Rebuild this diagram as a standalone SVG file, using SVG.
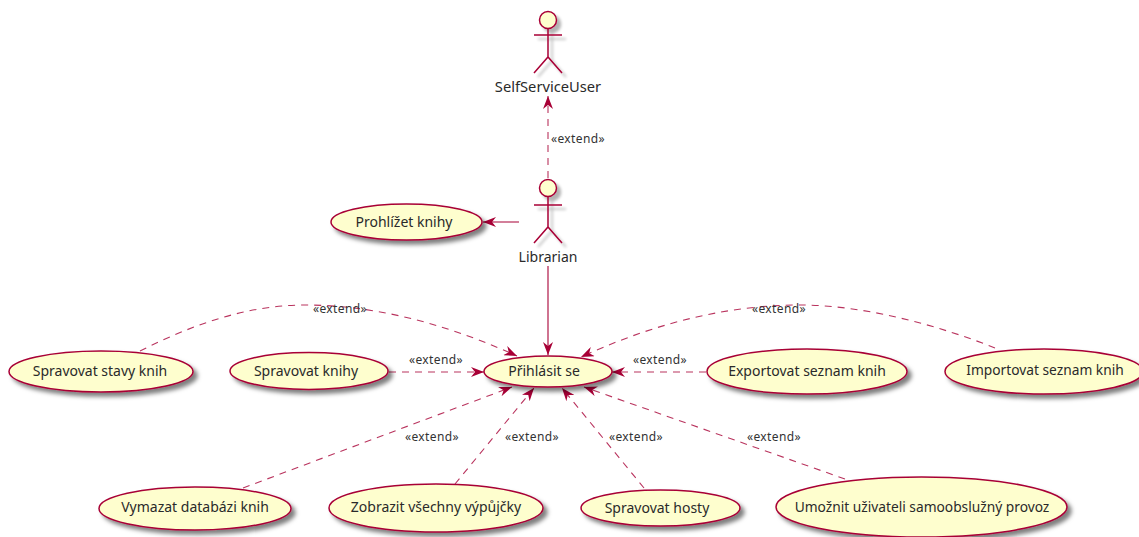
<svg xmlns="http://www.w3.org/2000/svg" width="1139" height="537" viewBox="0 0 1139 537">
<style>
text{font-family:"Noto Sans","Open Sans","Liberation Sans",sans-serif;fill:#2a2a2a}
.n{font-size:14px;text-anchor:middle}
.t{font-size:14.700px}
.w{font-size:13.750px}
.e{font-size:12px;fill:#333;text-anchor:middle;letter-spacing:.4px}
.u{fill:#FEFECE;stroke:#A80036;stroke-width:1.5;filter:url(#s)}
.a{fill:none;stroke:#A80036;stroke-width:1.5}
.c{fill:none;stroke:#A80036;stroke-width:1.1}
.d{stroke-dasharray:7,6;stroke-opacity:.8}
</style>
<defs>
<filter id="s" x="-20%" y="-30%" width="150%" height="170%"><feDropShadow dx="4" dy="4" stdDeviation="2" flood-color="#000" flood-opacity=".5"/></filter>
<filter id="f" x="-30%" y="-30%" width="170%" height="170%"><feGaussianBlur in="SourceAlpha" stdDeviation="1.800"/><feOffset dx="4" dy="4"/><feComponentTransfer result="b"><feFuncA type="linear" slope=".3"/></feComponentTransfer><feMerge><feMergeNode in="b"/><feMergeNode in="SourceGraphic"/></feMerge></filter>
<marker id="h" viewBox="0 0 13 10" refX="13" refY="5" markerWidth="13" markerHeight="10" orient="auto" markerUnits="userSpaceOnUse"><path d="M0,0 L13,5 L0,10 L4,5 Z" fill="#A80036"/></marker>
</defs>
<g id="connectors">
<path class="c d" marker-end="url(#h)" d="M548,178 L548,96"/>
<path class="c" marker-end="url(#h)" d="M519,222 L483,222"/>
<path class="c" marker-end="url(#h)" d="M548,266 L548,355"/>
<path class="c d" marker-end="url(#h)" d="M140,351 C190,326 245,305 305,305 C385,305 460,330 517,356"/>
<path class="c d" marker-end="url(#h)" d="M389,372 L484,372"/>
<path class="c d" marker-end="url(#h)" d="M706,372 L612,372"/>
<path class="c d" marker-end="url(#h)" d="M995,348 C940,326 865,305 800,305 C715,305 640,330 581,357"/>
<path class="c d" marker-end="url(#h)" d="M243,488 L512,387"/>
<path class="c d" marker-end="url(#h)" d="M455,484 L534,388"/>
<path class="c d" marker-end="url(#h)" d="M644,488 L562,388"/>
<path class="c d" marker-end="url(#h)" d="M845,479 L584,387"/>
</g>
<g id="SelfServiceUser"><g filter="url(#f)"><circle class="u" style="filter:none" cx="548" cy="20" r="8.500"/><path class="a" d="M548,29V57M534,35H562M534,73L548,57L562,73"/></g><text class="n t" x="548" y="92">SelfServiceUser</text></g>
<g id="Librarian"><g filter="url(#f)"><circle class="u" style="filter:none" cx="548" cy="188" r="8.500"/><path class="a" d="M548,197V227M534,205H562M534,243L548,227L562,243"/></g><text class="n" x="548" y="262">Librarian</text></g>
<g id="ProhlizetKnihy"><ellipse class="u" cx="406.500" cy="222" rx="75.500" ry="18"/><text class="n" x="404" y="227">Prohlížet knihy</text></g>
<g id="Prihlasit"><ellipse class="u" cx="548" cy="371.500" rx="64" ry="15.500"/><text class="n" x="544" y="376">Přihlásit se</text></g>
<g id="SpravovatStavy"><ellipse class="u" cx="101" cy="371.500" rx="92" ry="20.500"/><text class="n" x="100" y="376">Spravovat stavy knih</text></g>
<g id="SpravovatKnihy"><ellipse class="u" cx="309" cy="371" rx="79" ry="18.500"/><text class="n" x="306" y="376">Spravovat knihy</text></g>
<g id="Exportovat"><ellipse class="u" cx="807" cy="371.500" rx="100" ry="22.500"/><text class="n" x="807" y="376">Exportovat seznam knih</text></g>
<g id="Importovat"><ellipse class="u" cx="1044" cy="371.500" rx="99" ry="22.500"/><text class="n w" x="1045" y="375">Importovat seznam knih</text></g>
<g id="Vymazat"><ellipse class="u" cx="195" cy="508.500" rx="96" ry="21.500"/><text class="n" x="195" y="512">Vymazat databázi knih</text></g>
<g id="Zobrazit"><ellipse class="u" cx="436" cy="508" rx="107" ry="24"/><text class="n" x="436" y="512">Zobrazit všechny výpůjčky</text></g>
<g id="SpravovatHosty"><ellipse class="u" cx="660.500" cy="508" rx="79.500" ry="18"/><text class="n" x="657" y="513">Spravovat hosty</text></g>
<g id="Umoznit"><ellipse class="u" cx="921.500" cy="507" rx="145.500" ry="30"/><text class="n w" x="922" y="512">Umožnit uživateli samoobslužný provoz</text></g>
<g id="labels">
<text class="e" x="578" y="143">«extend»</text>
<text class="e" x="340" y="313">«extend»</text>
<text class="e" x="436" y="364">«extend»</text>
<text class="e" x="660" y="364">«extend»</text>
<text class="e" x="779" y="313">«extend»</text>
<text class="e" x="432" y="441">«extend»</text>
<text class="e" x="532" y="441">«extend»</text>
<text class="e" x="636" y="441">«extend»</text>
<text class="e" x="774" y="441">«extend»</text>
</g>
</svg>
